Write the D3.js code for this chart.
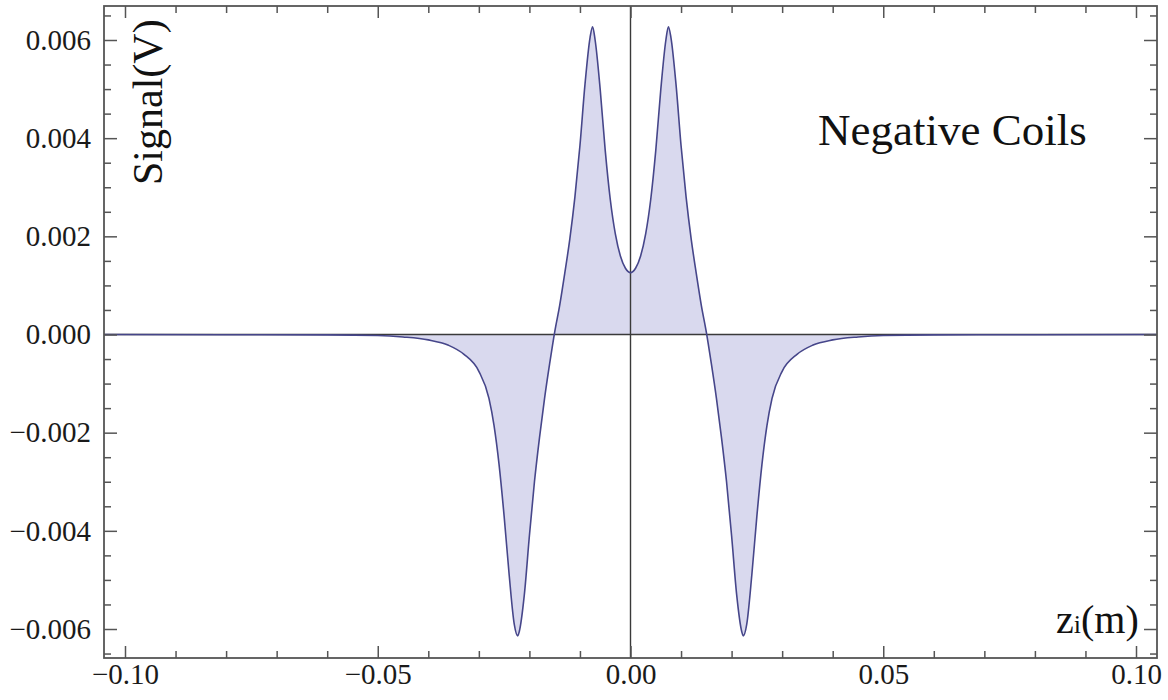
<!DOCTYPE html>
<html>
<head>
<meta charset="utf-8">
<script src="https://cdn.jsdelivr.net/npm/d3@7"></script>
<style>
  body { margin: 0; background: #fff; }
  .axis text { font-family: "Liberation Serif", "Times New Roman", serif; font-size: 29px; fill: #1a1a1a; }
  .axis path { display: none; }
  .axis line { stroke: #555; stroke-width: 1.5; }
</style>
</head>
<body>
<div id="chart"></div>
<script>
// position z (m)
var zValues = [
  -0.1040, -0.080, -0.060, -0.050, -0.045, -0.040, -0.036, -0.033, -0.030, -0.028,
  -0.027, -0.026, -0.025, -0.024, -0.023, -0.0223, -0.022, -0.021, -0.020, -0.019,
  -0.018, -0.017, -0.016, -0.015, -0.014, -0.013, -0.012, -0.011, -0.010, -0.009,
  -0.008, -0.0075, -0.007, -0.006, -0.005, -0.004, -0.003, -0.002, -0.001, 0.000,
  0.001, 0.002, 0.003, 0.004, 0.005, 0.006, 0.007, 0.0075, 0.008, 0.009,
  0.010, 0.011, 0.012, 0.013, 0.014, 0.015, 0.016, 0.017, 0.018, 0.019,
  0.020, 0.021, 0.022, 0.0223, 0.023, 0.024, 0.025, 0.026, 0.027, 0.028,
  0.030, 0.033, 0.036, 0.040, 0.045, 0.050, 0.060, 0.080, 0.1040
];
// signal (V)
var signalValues = [
  0, -0.000005, -0.000008, -0.00002, -0.00005, -0.00011, -0.00022, -0.00040, -0.00075, -0.00130,
  -0.00185, -0.00265, -0.00370, -0.00490, -0.00590, -0.00614, -0.00605, -0.00530, -0.00410, -0.00300,
  -0.00210, -0.00130, -0.00060, 0.00005, 0.00060, 0.00125, 0.00195, 0.00280, 0.00385, 0.00510,
  0.00605, 0.00627, 0.00600, 0.00500, 0.00375, 0.00275, 0.00205, 0.00160, 0.00135, 0.00126,
  0.00135, 0.00160, 0.00205, 0.00275, 0.00375, 0.00500, 0.00600, 0.00627, 0.00605, 0.00510,
  0.00385, 0.00280, 0.00195, 0.00125, 0.00060, 0.00005, -0.00060, -0.00130, -0.00210, -0.00300,
  -0.00410, -0.00530, -0.00605, -0.00614, -0.00590, -0.00490, -0.00370, -0.00265, -0.00185, -0.00130,
  -0.00075, -0.00040, -0.00022, -0.00011, -0.00005, -0.00002, -0.000008, -0.000005, 0
];
var xMajorTicks = [-0.10, -0.05, 0.00, 0.05, 0.10];
var xMinorTicks = [-0.09, -0.08, -0.07, -0.06, -0.04, -0.03, -0.02, -0.01,
                   0.01, 0.02, 0.03, 0.04, 0.06, 0.07, 0.08, 0.09];
var yMajorTicks = [-0.006, -0.004, -0.002, 0.000, 0.002, 0.004, 0.006];
var yMinorTicks = [-0.0065, -0.0055, -0.005, -0.0045, -0.0035, -0.003, -0.0025, -0.0015, -0.001, -0.0005,
                   0.0005, 0.001, 0.0015, 0.0025, 0.003, 0.0035, 0.0045, 0.005, 0.0055, 0.0065];

var W = 1168, H = 700;
var MARGIN = {top: 6, right: 11, bottom: 42, left: 104},
    WIDTH = W - MARGIN.left - MARGIN.right,
    HEIGHT = H - MARGIN.top - MARGIN.bottom;

var svg = d3.select("#chart").append("svg")
  .attr("width", W).attr("height", H);

var g = svg.append("g")
  .attr("transform", "translate(" + MARGIN.left + "," + MARGIN.top + ")");

var x = d3.scaleLinear().domain([-0.104154, 0.104154]).range([0, WIDTH]);
var y = d3.scaleLinear().domain([-0.0065908, 0.0066927]).range([HEIGHT, 0]);

var data = zValues.map(function(z, i) { return {z: z, s: signalValues[i]}; });

function fmt(d, n) {
  var s = Math.abs(d).toFixed(n);
  return d < -1e-12 ? "\u2212" + s : s;
}

// filled area to the axis
var area = d3.area()
  .x(function(d) { return x(d.z); })
  .y0(y(0))
  .y1(function(d) { return y(d.s); })
  .curve(d3.curveMonotoneX);

var line = d3.line()
  .x(function(d) { return x(d.z); })
  .y(function(d) { return y(d.s); })
  .curve(d3.curveMonotoneX);

g.append("path").datum(data)
  .attr("d", area)
  .attr("fill", "#d9d9ee");

// zero axes
g.append("line")
  .attr("x1", 0).attr("x2", WIDTH)
  .attr("y1", y(0)).attr("y2", y(0))
  .attr("stroke", "#3a3a3a").attr("stroke-width", 1.6);
g.append("line")
  .attr("x1", x(0)).attr("x2", x(0))
  .attr("y1", 0).attr("y2", HEIGHT)
  .attr("stroke", "#3a3a3a").attr("stroke-width", 1.4);

g.append("path").datum(data)
  .attr("d", line)
  .attr("fill", "none")
  .attr("stroke", "#46468a")
  .attr("stroke-width", 1.6);

// frame ticks (inward)
g.append("g").attr("class", "axis")
  .attr("transform", "translate(0," + HEIGHT + ")")
  .call(d3.axisBottom(x).tickValues(xMajorTicks).tickSize(-12).tickPadding(5)
    .tickFormat(function(d) { return fmt(d, 2); }));
g.append("g").attr("class", "axis")
  .attr("transform", "translate(0," + HEIGHT + ")")
  .call(d3.axisBottom(x).tickValues(xMinorTicks).tickSize(-7).tickFormat(""));
g.append("g").attr("class", "axis")
  .call(d3.axisTop(x).tickValues(xMajorTicks).tickSize(-12).tickFormat(""));
g.append("g").attr("class", "axis")
  .call(d3.axisTop(x).tickValues(xMinorTicks).tickSize(-7).tickFormat(""));

g.append("g").attr("class", "axis")
  .call(d3.axisLeft(y).tickValues(yMajorTicks).tickSize(-13).tickPadding(13)
    .tickFormat(function(d) { return fmt(d, 3); }));
g.append("g").attr("class", "axis")
  .call(d3.axisLeft(y).tickValues(yMinorTicks).tickSize(-7).tickFormat(""));
g.append("g").attr("class", "axis")
  .attr("transform", "translate(" + WIDTH + ",0)")
  .call(d3.axisRight(y).tickValues(yMajorTicks).tickSize(-13).tickFormat(""));
g.append("g").attr("class", "axis")
  .attr("transform", "translate(" + WIDTH + ",0)")
  .call(d3.axisRight(y).tickValues(yMinorTicks).tickSize(-7).tickFormat(""));

// frame
g.append("rect")
  .attr("width", WIDTH).attr("height", HEIGHT)
  .attr("fill", "none").attr("stroke", "#555").attr("stroke-width", 1.8);

// labels
var serif = "'Liberation Serif', 'Times New Roman', serif";
svg.append("text")
  .attr("transform", "translate(162,185) rotate(-90)")
  .attr("font-family", serif).attr("font-size", 42).attr("fill", "#111")
  .text("Signal(V)");

var zl = svg.append("text")
  .attr("x", 1056).attr("y", 633)
  .attr("font-family", serif).attr("font-size", 40).attr("fill", "#111");
zl.append("tspan").text("z");
zl.append("tspan").attr("font-size", 26).text("i");
zl.append("tspan").text("(m)");

svg.append("text")
  .attr("x", 818).attr("y", 145)
  .attr("font-family", serif).attr("font-size", 45).attr("fill", "#111")
  .text("Negative Coils");
</script>
</body>
</html>
